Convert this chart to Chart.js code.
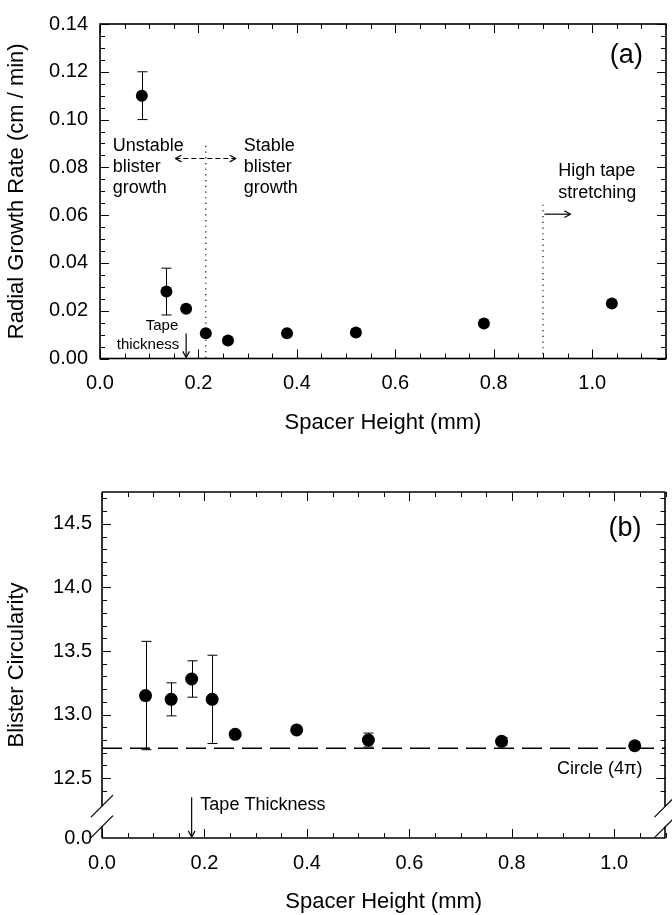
<!DOCTYPE html>
<html>
<head>
<meta charset="utf-8">
<script src="https://cdn.jsdelivr.net/npm/chart.js@4.4.1/dist/chart.umd.min.js"></script>
<style>
  body { margin: 0; background: #fff; }
  canvas { position: absolute; left: 0; }
  #rateChart { top: 0; }
  #circChart { top: 440px; }
</style>
</head>
<body>
<canvas id="rateChart" width="672" height="440"></canvas>
<canvas id="circChart" width="672" height="475"></canvas>
<script>
// spacer heights (mm), shared by both panels
const spacerHeights = [0.085, 0.135, 0.175, 0.215, 0.26, 0.38, 0.52, 0.78, 1.04];

// (a) radial growth rate, cm/min
const growthRate    = [0.110, 0.028, 0.0208, 0.0106, 0.0075, 0.0106, 0.0109, 0.0146, 0.0230];
const growthRateErr = [0.010, 0.0098, 0, 0, 0, 0, 0, 0, 0];

// (b) blister circularity
const circularity    = [13.15, 13.12, 13.28, 13.12, 12.845, 12.88, 12.80, 12.79, 12.755];
const circularityErr = [0.426, 0.13, 0.143, 0.347, 0, 0, 0.055, 0.03, 0];
const circleLine = 12.735;   // "Circle (4pi)" reference line

const xTicks    = [0.0, 0.2, 0.4, 0.6, 0.8, 1.0];
const rateTicks = [0.00, 0.02, 0.04, 0.06, 0.08, 0.10, 0.12, 0.14];
const circTicks = [12.5, 13.0, 13.5, 14.0, 14.5];
const circZero  = 12.03;     // where "0.0" sits below the axis break

Chart.defaults.font.family = '"Liberation Sans", Arial, Helvetica, sans-serif';
Chart.defaults.color = '#000';

function line(ctx, x0, y0, x1, y1) {
  ctx.beginPath(); ctx.moveTo(x0, y0); ctx.lineTo(x1, y1); ctx.stroke();
}
function arrowHead(ctx, tx, ty, ang) {
  const L = 7, w = 0.5;
  line(ctx, tx, ty, tx - L * Math.cos(ang - w), ty - L * Math.sin(ang - w));
  line(ctx, tx, ty, tx - L * Math.cos(ang + w), ty - L * Math.sin(ang + w));
}

// inward ticks on all four sides (major + minor)
function drawTicks(chart, o) {
  const { ctx, chartArea: a, scales: { x, y } } = chart;
  ctx.save();
  ctx.strokeStyle = '#000';
  ctx.lineWidth = 1;
  const nx = Math.round(x.max / o.xMinor);
  for (let i = 0; i <= nx; i++) {
    const v = i * o.xMinor;
    const major = Math.abs(v / o.xMajor - Math.round(v / o.xMajor)) < 1e-6;
    const len = major ? 9 : 5;
    const px = Math.round(x.getPixelForValue(v)) + 0.5;
    line(ctx, px, a.bottom, px, a.bottom - len);
    line(ctx, px, a.top, px, a.top + len);
  }
  const n0 = Math.ceil(o.yFrom / o.yMinor - 1e-6), n1 = Math.floor(y.max / o.yMinor + 1e-6);
  for (let i = n0; i <= n1; i++) {
    const v = i * o.yMinor;
    const major = Math.abs(v / o.yMajor - Math.round(v / o.yMajor)) < 1e-6;
    const len = major ? 9 : 5;
    const py = Math.round(y.getPixelForValue(v)) + 0.5;
    line(ctx, a.left, py, a.left + len, py);
    line(ctx, a.right, py, a.right - len, py);
  }
  ctx.restore();
}

function drawErrorBars(chart, values, errs) {
  const { ctx, scales: { x, y } } = chart;
  ctx.save();
  ctx.strokeStyle = '#000';
  ctx.lineWidth = 1;
  values.forEach((v, i) => {
    if (!errs[i]) return;
    const px = Math.round(x.getPixelForValue(spacerHeights[i])) + 0.5;
    const top = y.getPixelForValue(v + errs[i]);
    const bot = y.getPixelForValue(v - errs[i]);
    line(ctx, px, top, px, bot);
    line(ctx, px - 5, top, px + 5, top);
    line(ctx, px - 5, bot, px + 5, bot);
  });
  ctx.restore();
}

function textLines(ctx, lines, px, py, lh, align) {
  ctx.textAlign = align;
  ctx.textBaseline = 'middle';
  lines.forEach((t, i) => ctx.fillText(t, px, py + i * lh));
}

const rateDecor = {
  id: 'rateDecor',
  afterDatasetsDraw(chart) {
    const { ctx, chartArea: a, scales: { x, y } } = chart;
    drawErrorBars(chart, growthRate, growthRateErr);
    drawTicks(chart, { xMinor: 0.05, xMajor: 0.2, yMinor: 0.005, yMajor: 0.02, yFrom: 0 });
    ctx.save();
    ctx.strokeStyle = '#000';
    ctx.fillStyle = '#000';
    ctx.lineWidth = 1.6;
    ctx.strokeRect(a.left, a.top, a.right - a.left, a.bottom - a.top);

    // dotted boundaries
    ctx.lineWidth = 1.2;
    ctx.setLineDash([1.2, 4.5]);
    line(ctx, x.getPixelForValue(0.215), y.getPixelForValue(0.089), x.getPixelForValue(0.215), a.bottom);
    line(ctx, x.getPixelForValue(0.9), y.getPixelForValue(0.0644), x.getPixelForValue(0.9), a.bottom);

    // double arrow between regimes
    ctx.lineWidth = 1.2;
    ctx.setLineDash([5, 3]);
    const ay = y.getPixelForValue(0.0837);
    const ax0 = x.getPixelForValue(0.153), ax1 = x.getPixelForValue(0.276);
    line(ctx, ax0, ay, ax1, ay);
    ctx.setLineDash([]);
    arrowHead(ctx, ax0, ay, Math.PI);
    arrowHead(ctx, ax1, ay, 0);

    // high tape stretching arrow
    const hy = y.getPixelForValue(0.0604);
    const hx0 = x.getPixelForValue(0.903), hx1 = x.getPixelForValue(0.956);
    line(ctx, hx0, hy, hx1, hy);
    arrowHead(ctx, hx1, hy, 0);

    // tape thickness arrow
    const tx = x.getPixelForValue(0.175);
    line(ctx, tx, y.getPixelForValue(0.0105), tx, a.bottom - 1);
    arrowHead(ctx, tx, a.bottom - 1, Math.PI / 2);

    ctx.font = '18px "Liberation Sans", Arial, sans-serif';
    textLines(ctx, ['Unstable', 'blister', 'growth'], x.getPixelForValue(0.026), y.getPixelForValue(0.0888), 21, 'left');
    textLines(ctx, ['Stable', 'blister', 'growth'], x.getPixelForValue(0.292), y.getPixelForValue(0.0888), 21, 'left');
    textLines(ctx, ['High tape', 'stretching'], x.getPixelForValue(0.931), y.getPixelForValue(0.0783), 22, 'left');
    ctx.font = '15px "Liberation Sans", Arial, sans-serif';
    textLines(ctx, ['Tape'], x.getPixelForValue(0.126), y.getPixelForValue(0.0136), 0, 'center');
    textLines(ctx, ['thickness'], x.getPixelForValue(0.161), y.getPixelForValue(0.0059), 0, 'right');
    ctx.font = '27px "Liberation Sans", Arial, sans-serif';
    textLines(ctx, ['(a)'], x.getPixelForValue(1.103), y.getPixelForValue(0.1267), 0, 'right');
    ctx.restore();
  }
};

const circDecor = {
  id: 'circDecor',
  afterDatasetsDraw(chart) {
    const { ctx, chartArea: a, scales: { x, y } } = chart;
    drawErrorBars(chart, circularity, circularityErr);
    drawTicks(chart, { xMinor: 0.05, xMajor: 0.2, yMinor: 0.1, yMajor: 0.5, yFrom: 12.4 });
    ctx.save();
    ctx.strokeStyle = '#000';
    ctx.fillStyle = '#000';
    ctx.lineWidth = 1.6;
    // frame with axis break between 12.12 and 12.28
    const bTop = y.getPixelForValue(12.28), bBot = y.getPixelForValue(12.12);
    line(ctx, a.left, a.top, a.right, a.top);
    line(ctx, a.left, a.bottom, a.right, a.bottom);
    line(ctx, a.left, a.top, a.left, bTop);
    line(ctx, a.left, bBot, a.left, a.bottom);
    line(ctx, a.right - 0.5, a.top, a.right - 0.5, bTop);
    line(ctx, a.right - 0.5, bBot, a.right - 0.5, a.bottom);
    ctx.lineWidth = 1.2;
    [a.left, a.right].forEach(px => {
      [bTop, bBot].forEach(py => line(ctx, px - 11, py + 11, px + 11, py - 11));
    });

    // tape thickness arrow
    const tx = x.getPixelForValue(0.175);
    line(ctx, tx, y.getPixelForValue(12.35), tx, a.bottom - 1);
    arrowHead(ctx, tx, a.bottom - 1, Math.PI / 2);

    ctx.font = '18px "Liberation Sans", Arial, sans-serif';
    textLines(ctx, ['Tape Thickness'], x.getPixelForValue(0.192), y.getPixelForValue(12.287), 0, 'left');
    textLines(ctx, ['Circle (4\u03c0)'], x.getPixelForValue(1.055), y.getPixelForValue(12.576), 0, 'right');
    ctx.font = '27px "Liberation Sans", Arial, sans-serif';
    textLines(ctx, ['(b)'], x.getPixelForValue(1.053), y.getPixelForValue(14.46), 0, 'right');
    ctx.restore();
  }
};

function xScale(max, height, titlePad) {
  return {
    type: 'linear', min: 0, max: max,
    border: { display: false },
    grid: { display: false, drawTicks: false },
    afterBuildTicks: s => { s.ticks = xTicks.map(v => ({ value: v })); },
    ticks: { padding: 13, maxRotation: 0, autoSkip: false, font: { size: 20 }, callback: v => v.toFixed(1) },
    title: { display: true, text: 'Spacer Height (mm)', font: { size: 22 }, padding: { top: 0, bottom: titlePad } },
    afterFit: s => { s.height = height; }
  };
}

new Chart(document.getElementById('rateChart'), {
  type: 'scatter',
  data: {
    datasets: [{
      data: spacerHeights.map((x, i) => ({ x: x, y: growthRate[i] })),
      pointRadius: 6, backgroundColor: '#000', borderColor: '#000', borderWidth: 0
    }]
  },
  options: {
    responsive: false, animation: false,
    layout: { padding: { top: 13, right: 1, left: 0, bottom: 0 } },
    plugins: { legend: { display: false }, tooltip: { enabled: false } },
    scales: {
      x: xScale(1.15, 81.5, 4),
      y: {
        type: 'linear', min: 0, max: 0.14,
        border: { display: false },
        grid: { display: false, drawTicks: false },
        afterBuildTicks: s => { s.ticks = rateTicks.map(v => ({ value: v })); },
        ticks: { padding: 12, font: { size: 20 }, callback: v => v.toFixed(2) },
        title: { display: true, text: 'Radial Growth Rate (cm / min)', font: { size: 22 } },
        afterFit: s => { s.width = 100; }
      }
    }
  },
  plugins: [rateDecor]
});

new Chart(document.getElementById('circChart'), {
  type: 'scatter',
  data: {
    datasets: [{
      data: spacerHeights.map((x, i) => ({ x: x, y: circularity[i] })),
      pointRadius: 6.5, backgroundColor: '#000', borderColor: '#000', borderWidth: 0
    }, {
      type: 'line',
      data: [{ x: 0, y: circleLine }, { x: 1.1, y: circleLine }],
      borderColor: '#000', borderWidth: 1.6, borderDash: [20, 8], pointRadius: 0
    }]
  },
  options: {
    responsive: false, animation: false,
    layout: { padding: { top: 52, right: 0, left: 0, bottom: 0 } },
    plugins: { legend: { display: false }, tooltip: { enabled: false } },
    scales: {
      x: xScale(1.1, 77, 0),
      y: {
        type: 'linear', min: circZero, max: 14.75,
        border: { display: false },
        grid: { display: false, drawTicks: false },
        afterBuildTicks: s => { s.ticks = [circZero].concat(circTicks).map(v => ({ value: v })); },
        ticks: { padding: 10, font: { size: 20 }, callback: v => (v === circZero ? '0.0' : v.toFixed(1)) },
        title: { display: true, text: 'Blister Circularity', font: { size: 22 } },
        afterFit: s => { s.width = 102; }
      }
    }
  },
  plugins: [circDecor]
});
</script>
</body>
</html>
